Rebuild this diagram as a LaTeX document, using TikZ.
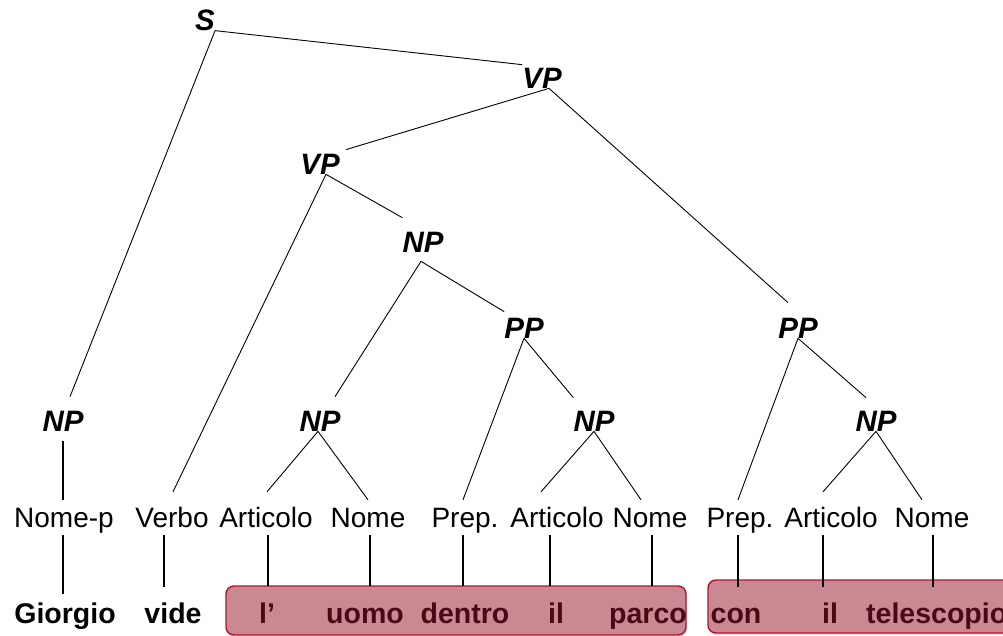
\documentclass[tikz,border=0pt]{standalone}
\usepackage{fontspec}
\setmainfont{Liberation Sans}
\usetikzlibrary{shadows,calc}
\definecolor{chunkfill}{RGB}{201,136,146}
\definecolor{chunkedge}{RGB}{176,18,44}
\definecolor{wordred}{RGB}{74,8,20}
\begin{document}
\begin{tikzpicture}[x=1pt,y=-1pt,
  cat/.style={font=\fontsize{29.5}{33}\selectfont\bfseries\itshape, inner sep=0pt},
  postag/.style={font=\fontsize{28}{32}\selectfont, inner sep=0pt, anchor=base,
    text height=20pt, text depth=6pt},
  word/.style={font=\fontsize{28.5}{32}\selectfont\bfseries, inner sep=0pt, anchor=base,
    text height=20pt, text depth=6pt},
  inbox/.style={word, text=wordred},
  branch/.style={line width=0.9pt},
  stem/.style={line width=2pt},
  chunk/.style={draw=chunkedge, fill=chunkfill, line width=1.4pt, rounded corners=8pt,
    inner sep=0pt, drop shadow={shadow xshift=1pt, shadow yshift=-2pt, opacity=0.25}}
]
\useasboundingbox (0,0) rectangle (1003,636);
\clip (0,0) rectangle (1003,636);

% phrase categories
\node[cat] (S)   at (205,20)  {S};
\node[cat] (VP1) at (542,78)  {VP};
\node[cat] (VP2) at (320,164) {VP};
\node[cat] (NPm) at (423,242) {NP};
\node[cat] (PP1) at (524,328) {PP};
\node[cat] (PP2) at (798,328) {PP};
\node[cat] (NPg) at (63,421)  {NP};
\node[cat] (NPl) at (320,421) {NP};
\node[cat] (NPp) at (594,421) {NP};
\node[cat] (NPt) at (876,421) {NP};

% parts of speech
\node[postag] (Nomep) at (64,527)  {Nome-p};
\node[postag] (Verbo) at (172,527) {Verbo};
\node[postag] (Art1)  at (266,527) {Articolo};
\node[postag] (Nome1) at (368,527) {Nome};
\node[postag] (Prep1) at (465,527) {Prep.};
\node[postag] (Art2)  at (557,527) {Articolo};
\node[postag] (Nome2) at (650,527) {Nome};
\node[postag] (Prep2) at (740,527) {Prep.};
\node[postag] (Art3)  at (831,527) {Articolo};
\node[postag] (Nome3) at (932,527) {Nome};

% highlighted chunks
\node[chunk, minimum width=460pt, minimum height=49pt] (box1) at (456,610.5) {};
\node[chunk, minimum width=340pt, minimum height=53pt] (box2) at (878,606.5) {};

% words
\node[word]  (w1)  at (65,623)  {Giorgio};
\node[word]  (w2)  at (173,623) {vide};
\node[inbox] (w3)  at (267,623) {l’};
\node[inbox] (w4)  at (365,623) {uomo};
\node[inbox] (w5)  at (465,623) {dentro};
\node[inbox] (w6)  at (556,623) {il};
\node[inbox] (w7)  at (648,623) {parco};
\node[inbox] (w8)  at (736,623) {con};
\node[inbox] (w9)  at (830,623) {il};
\node[inbox, anchor=base west] (w10) at (866,623) {telescopio};

% tree branches
\draw[branch] (S.south east) -- ([yshift=3pt]VP1.north west);
\draw[branch] (S.south east) -- ([xshift=7pt,yshift=14pt]NPg.north);
\draw[branch] ([xshift=7pt]VP1.south) -- ([xshift=6pt,yshift=4pt]VP2.north east);
\draw[branch] ([xshift=7pt]VP1.south) -- ([xshift=-10pt,yshift=15pt]PP2.north);
\draw[branch] ([xshift=6pt]VP2.south) -- ([xshift=1pt,yshift=15pt]Verbo.north);
\draw[branch] ([xshift=6pt]VP2.south) -- ([yshift=14pt]NPm.north west);
\draw[branch] ([xshift=-2pt,yshift=-9pt]NPm.south) -- ([xshift=15pt,yshift=14pt]NPl.north);
\draw[branch] ([xshift=-2pt,yshift=-9pt]NPm.south) -- ([yshift=6pt]PP1.north west);
\draw[branch] (PP1.south) -- ([xshift=-2pt,yshift=7pt]Prep1.north);
\draw[branch] (PP1.south) -- ([yshift=13pt]NPp.north west);
\draw[branch] (PP2.south) -- ([xshift=-2pt,yshift=7pt]Prep2.north);
\draw[branch] (PP2.south) -- ([xshift=-10pt,yshift=13pt]NPt.north);
\draw[branch] ([xshift=-2pt]NPl.south) -- ([xshift=1pt,yshift=15pt]Art1.north);
\draw[branch] ([xshift=-2pt]NPl.south) -- ([yshift=7pt]Nome1.north);
\draw[branch] (NPp.south) -- ([xshift=-16pt,yshift=15pt]Art2.north);
\draw[branch] (NPp.south) -- ([xshift=-9pt,yshift=7pt]Nome2.north);
\draw[branch] (NPt.south) -- ([xshift=-8pt,yshift=15pt]Art3.north);
\draw[branch] (NPt.south) -- ([xshift=-10pt,yshift=7pt]Nome3.north);
\draw[stem] ([yshift=-10pt]NPg.south) -- ([xshift=-1pt,yshift=7pt]Nomep.north);

% lexical stems
\draw[stem] ([xshift=-1pt,yshift=-2pt]Nomep.south) -- ([xshift=-2pt,yshift=9pt]w1.north);
\draw[stem] ([xshift=-8pt,yshift=-2pt]Verbo.south) -- ([xshift=-9pt,yshift=16pt]w2.north);
\draw[stem] ([xshift=2pt,yshift=-2pt]Art1.south) -- ([xshift=1pt,yshift=17pt]w3.north);
\draw[stem] ([xshift=2pt,yshift=-2pt]Nome1.south) -- ([xshift=5pt,yshift=17pt]w4.north);
\draw[stem] ([xshift=-2pt,yshift=-2pt]Prep1.south) -- ([xshift=-2pt,yshift=17pt]w5.north);
\draw[stem] ([xshift=-7pt,yshift=-2pt]Art2.south) -- ([xshift=-6pt,yshift=17pt]w6.north);
\draw[stem] ([xshift=2pt,yshift=-2pt]Nome2.south) -- ([xshift=4pt,yshift=17pt]w7.north);
\draw[stem] ([xshift=-2pt,yshift=-2pt]Prep2.south) -- ([xshift=2pt,yshift=16pt]w8.north);
\draw[stem] ([xshift=-8pt,yshift=-2pt]Art3.south) -- ([xshift=-7pt,yshift=16pt]w9.north);
\draw[stem] ([xshift=1pt,yshift=-2pt]Nome3.south) -- ($(Nome3.south |- w10.north)+(1,-16)$);
\end{tikzpicture}
\end{document}
